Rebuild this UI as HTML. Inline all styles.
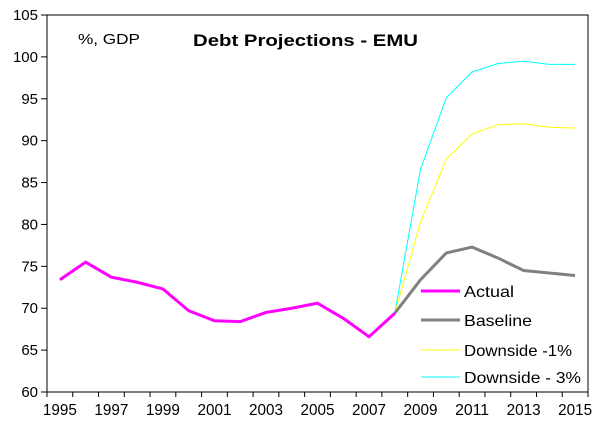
<!DOCTYPE html><html><head><style>body{margin:0;background:#fff}svg text{font-family:"Liberation Sans",Arial,sans-serif}</style></head><body>
<svg width="600" height="424" xmlns="http://www.w3.org/2000/svg">
<rect x="47" y="15" width="541" height="377" fill="none" stroke="#000" stroke-width="1"/>
<text x="78" y="44" font-size="15" textLength="62" lengthAdjust="spacingAndGlyphs">%, GDP</text>
<text x="193" y="46" font-size="17" font-weight="bold" textLength="225" lengthAdjust="spacingAndGlyphs">Debt Projections - EMU</text>
<g stroke="#000" stroke-width="1" id="t"></g>
<g font-size="15" text-anchor="end" id="yl"></g>
<g font-size="16" text-anchor="middle" id="xl"></g>
<polyline id="d3" fill="none" stroke="#00ffff" stroke-width="1"/>
<polyline id="d1" fill="none" stroke="#ffff00" stroke-width="1"/>
<polyline id="bl" fill="none" stroke="#808080" stroke-width="3"/>
<polyline id="ac" fill="none" stroke="#ff00ff" stroke-width="3"/>
<line x1="421" y1="291" x2="460" y2="291" stroke="#ff00ff" stroke-width="3"/>
<line x1="421" y1="320" x2="460" y2="320" stroke="#808080" stroke-width="3"/>
<line x1="421" y1="350" x2="460" y2="350" stroke="#ffff00" stroke-width="1"/>
<line x1="421" y1="377" x2="460" y2="377" stroke="#00ffff" stroke-width="1"/>
<g font-size="16"><text x="464" y="297" textLength="50" lengthAdjust="spacingAndGlyphs">Actual</text><text x="464" y="326" textLength="68" lengthAdjust="spacingAndGlyphs">Baseline</text><text x="464" y="356" textLength="108" lengthAdjust="spacingAndGlyphs">Downside -1%</text><text x="464" y="383" textLength="117" lengthAdjust="spacingAndGlyphs">Downside - 3%</text></g>
</svg>
<script>
var ns="http://www.w3.org/2000/svg";function Y(v){return 15+(105-v)*377/45}function X(y){return 47+(y-1995+0.5)*541/21}
var t=document.getElementById('t'),yl=document.getElementById('yl'),xl=document.getElementById('xl');
function el(n,a,p,tx){var e=document.createElementNS(ns,n);for(var k in a)e.setAttribute(k,a[k]);if(tx)e.textContent=tx;p.appendChild(e);}
for(var v=60;v<=105;v+=5){el('line',{x1:41,x2:47,y1:Y(v),y2:Y(v)},t);el('text',{x:38,y:Y(v)+5},yl,''+v);}
for(var i=0;i<=21;i++){var x=47+i*541/21;el('line',{x1:x,x2:x,y1:392,y2:397},t);}
for(var y=1995;y<=2015;y+=2)el('text',{x:X(y),y:415,textLength:34,lengthAdjust:'spacingAndGlyphs'},xl,''+y);
function S(id,s,d){document.getElementById(id).setAttribute('points',d.map(function(v,i){return X(s+i)+','+Y(v)}).join(' '));}
S('ac',1995,[73.4,75.5,73.7,73.1,72.3,69.7,68.5,68.4,69.5,70.0,70.6,68.8,66.6,69.4]);
S('bl',2008,[69.4,73.4,76.6,77.3,76.0,74.5,74.2,73.9]);
S('d1',2008,[69.4,80.3,87.8,90.8,91.9,92.0,91.6,91.5]);
S('d3',2008,[69.4,86.6,95.1,98.2,99.2,99.5,99.1,99.1]);
</script>
</body></html>
